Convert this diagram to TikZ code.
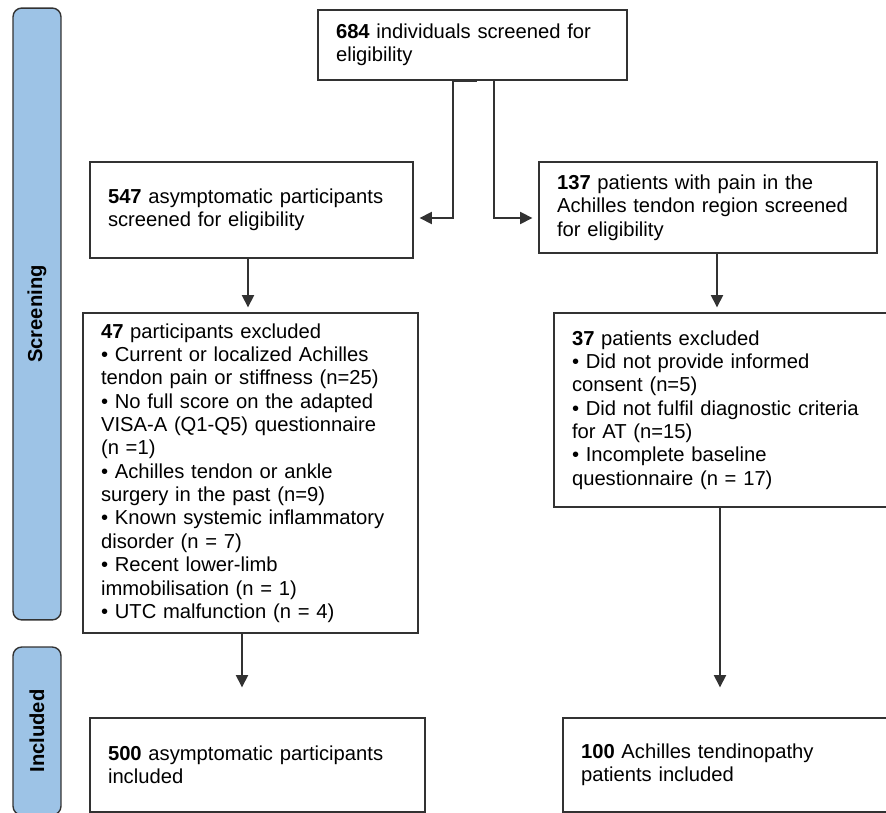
\documentclass[tikz,border=0pt]{standalone}
\usepackage{fontspec}
\setmainfont{Liberation Sans}
\usetikzlibrary{arrows.meta}
\definecolor{phaseblue}{RGB}{157,195,230}
\definecolor{linegray}{RGB}{50,50,50}
\begin{document}
\begin{tikzpicture}[
  x=0.02cm, y=-0.02cm,
  box/.style={draw=linegray, line width=0.8pt, align=left, inner xsep=0.36cm,
    font=\fontsize{11.5}{13.3}\selectfont},
  phase/.style={draw=linegray, line width=0.8pt, fill=phaseblue, rounded corners=5pt,
    rotate=90, minimum height=0.96cm, font=\fontsize{11.5}{13}\selectfont\bfseries},
  arr/.style={draw=linegray, line width=0.8pt, -{Triangle[length=7pt,width=7pt]}}
]
  \clip (0,0) rectangle (886,813);

  % Fáze
  \node[phase, minimum width=12.24cm] (screen) at (37,314) {Screening};
  \node[phase, minimum width=3.36cm] (incl) at (37,731) {Included};

  % Boxy
  \node[box, text width=5.46cm, minimum height=1.4cm] (top) at (472.5,45)
    {\textbf{684} individuals screened for\\eligibility};
  \node[box, text width=5.74cm, minimum height=1.92cm] (asym) at (251.5,210)
    {\textbf{547} asymptomatic participants\\screened for eligibility};
  \node[box, text width=6.04cm, minimum height=1.82cm] (pain) at (708,207.5)
    {\textbf{137} patients with pain in the\\Achilles tendon region screened\\for eligibility};
  \node[box, text width=5.98cm, minimum height=6.4cm] (exclA) at (250.5,473)
    {\textbf{47} participants excluded\\
     • Current or localized Achilles\\tendon pain or stiffness (n=25)\\
     • No full score on the adapted\\VISA-A (Q1-Q5) questionnaire\\(n =1)\\
     • Achilles tendon or ankle\\surgery in the past (n=9)\\
     • Known systemic inflammatory\\disorder (n = 7)\\
     • Recent lower-limb\\immobilisation (n = 1)\\
     • UTC malfunction (n = 4)};
  \node[box, text width=6.4cm, minimum height=3.88cm] (exclP) at (732,410)
    {\textbf{37} patients excluded\\
     • Did not provide informed\\consent (n=5)\\
     • Did not fulfil diagnostic criteria\\for AT (n=15)\\
     • Incomplete baseline\\questionnaire (n = 17)};
  \node[box, text width=5.98cm, minimum height=1.88cm] (inclA) at (257.5,765)
    {\textbf{500} asymptomatic participants\\included};
  \node[box, text width=6.22cm, minimum height=1.88cm] (inclP) at (736.5,765)
    {\textbf{100} Achilles tendinopathy\\patients included};

  % Spojnice
  \coordinate (splitL) at (453,0);
  \coordinate (splitR) at (494,0);
  \coordinate (lvl) at (0,218);
  \coordinate (colL) at (248,0);
  \coordinate (colR) at (717,0);
  \coordinate (colL2) at (242,0);
  \coordinate (colR2) at (720,0);

  \draw[draw=linegray, line width=1.6pt] (top.south -| splitL) -- ++(24,0);
  \draw[arr, shorten >=0.12cm] (top.south -| splitL) -- (splitL |- lvl) -- (lvl -| asym.east);
  \draw[arr, shorten >=0.12cm] (top.south -| splitR) -- (splitR |- lvl) -- (lvl -| pain.west);
  \draw[arr, shorten >=0.1cm] (asym.south -| colL) -- (exclA.north -| colL);
  \draw[arr, shorten >=0.1cm] (pain.south -| colR) -- (exclP.north -| colR);
  \draw[arr, shorten >=0.6cm] (exclA.south -| colL2) -- (inclA.north -| colL2);
  \draw[arr, shorten >=0.6cm] (exclP.south -| colR2) -- (inclP.north -| colR2);
\end{tikzpicture}
\end{document}
